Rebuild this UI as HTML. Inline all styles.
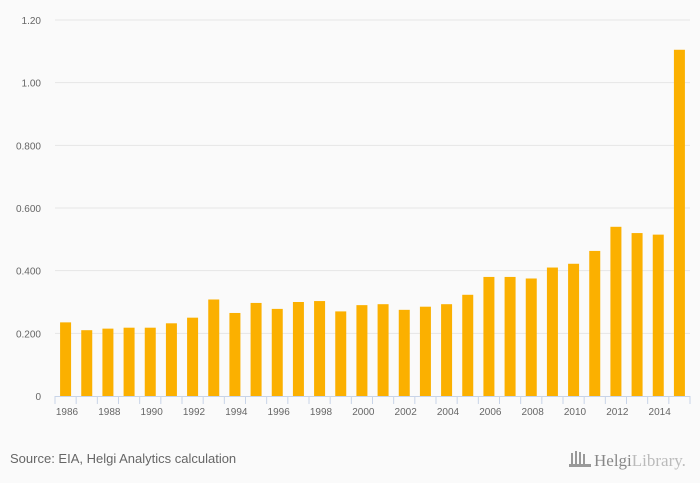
<!DOCTYPE html>
<html><head><meta charset="utf-8"><style>
body{margin:0;background:#fafafa;font-family:"Liberation Sans",sans-serif}
svg{display:block}
</style></head><body>
<svg id="chart" width="700" height="483">
<g id="grid"></g>
<g id="bars"></g>
<g id="xaxis"></g>
<g id="yaxis"></g>
<text x="10" y="463" font-size="13" fill="#666">Source: EIA, Helgi Analytics calculation</text>
<g>
<g fill="#999"><rect x="571" y="453" width="2" height="12"/><rect x="575" y="451" width="2" height="14"/><rect x="579" y="452" width="2" height="13"/><rect x="583" y="454" width="2" height="11"/><rect x="569" y="464" width="22" height="3"/></g>
<text x="594" y="466" font-size="17" fill="#888" font-family="Liberation Serif,serif">Helgi<tspan fill="#bbb">Library.</tspan></text>
</g>
</svg>
<script>
const years=[1986,1987,1988,1989,1990,1991,1992,1993,1994,1995,1996,1997,1998,1999,2000,2001,2002,2003,2004,2005,2006,2007,2008,2009,2010,2011,2012,2013,2014,2015];
const values=[0.235,0.21,0.215,0.218,0.218,0.232,0.25,0.308,0.265,0.297,0.278,0.30,0.303,0.27,0.29,0.293,0.275,0.285,0.293,0.323,0.38,0.38,0.375,0.41,0.422,0.463,0.54,0.52,0.515,1.105];
const yTicks=[0,0.2,0.4,0.6,0.8,1.0,1.2];
const yTickLabels=["0","0.200","0.400","0.600","0.800","1.00","1.20"];
const NS="http://www.w3.org/2000/svg";
const x0=55,x1=690,yBase=396,yTop=20,yMax=1.2;
const step=(x1-x0)/years.length;
const yS=v=>yBase-(v/yMax)*(yBase-yTop);
function mk(t,a,p){const e=document.createElementNS(NS,t);for(const k in a)e.setAttribute(k,a[k]);p.appendChild(e);return e;}
const grid=document.getElementById('grid'),bars=document.getElementById('bars'),xa=document.getElementById('xaxis'),ya=document.getElementById('yaxis');
yTicks.forEach((v,i)=>{
 if(v>0){const l=mk('line',{x1:x0,x2:x1,y1:yS(v),y2:yS(v),stroke:'#e6e6e6','stroke-width':1},grid);
 
 }
 const t=mk('text',{x:41,y:yS(v)+4,'font-size':10,fill:'#666','text-anchor':'end'},ya);
 t.textContent=yTickLabels[i];
 
 
});
years.forEach((yr,i)=>{
 const cx=x0+step*(i+0.5),w=11;
 const r=mk('rect',{x:cx-w/2,y:yS(values[i]),width:w,height:yBase-yS(values[i]),fill:'#fbb000'},bars);
 
 
 const tk=mk('line',{x1:x0+step*i,x2:x0+step*i,y1:yBase,y2:yBase+8,stroke:'#c8d4e8'},xa);
 
 
 if(i%2===0){const t=mk('text',{x:x0+step*i+12,y:yBase+19,'font-size':10,fill:'#666','text-anchor':'middle'},xa);
 t.textContent=yr;
 
 }
});
const e=mk('line',{x1:x1,x2:x1,y1:yBase,y2:yBase+8,stroke:'#c8d4e8'},xa);


const ax=mk('line',{x1:x0,x2:x1,y1:yBase+0.5,y2:yBase+0.5,stroke:'#c8d4e8'},xa);


</script>
</body></html>
